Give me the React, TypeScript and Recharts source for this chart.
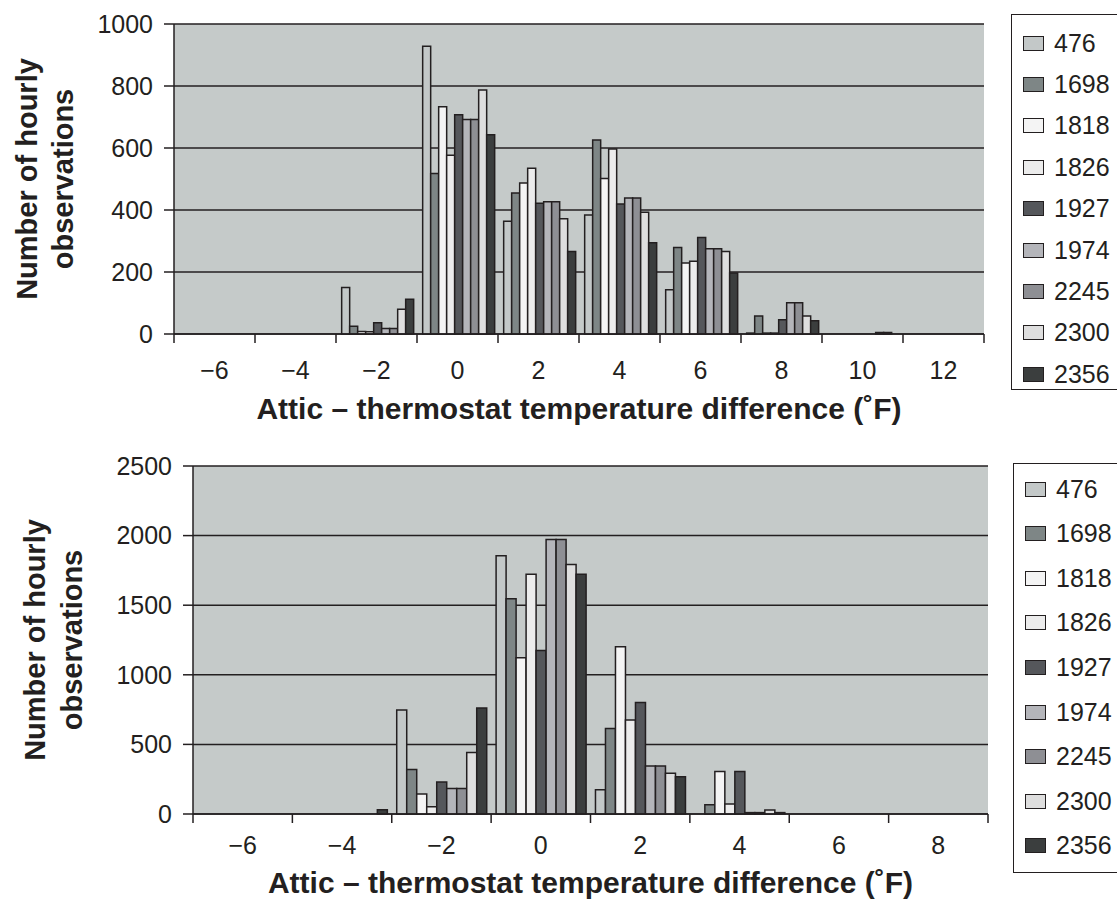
import React from 'react';
import { BarChart, Bar, XAxis, YAxis, CartesianGrid } from 'recharts';

const stations = ['476', '1698', '1818', '1826', '1927', '1974', '2245', '2300', '2356'];
const colors = ['#c3c8c8', '#7e8686', '#f4f4f4', '#ececec', '#55575b', '#b4b5ba', '#8e8f94', '#dedede', '#3b3e3e'];

// upper panel: temperature difference bins (°F)
const topBins = [-6, -4, -2, 0, 2, 4, 6, 8, 10, 12];
const top476 = [0, 0, 150, 928, 364, 384, 143, 3, 0, 0];
const top1698 = [0, 0, 25, 518, 455, 626, 279, 58, 0, 0];
const top1818 = [0, 0, 8, 733, 487, 502, 229, 3, 0, 0];
const top1826 = [0, 0, 7, 577, 535, 597, 235, 3, 0, 0];
const top1927 = [0, 0, 36, 707, 422, 419, 311, 46, 0, 0];
const top1974 = [0, 0, 18, 692, 427, 439, 275, 101, 0, 0];
const top2245 = [0, 0, 18, 692, 427, 439, 275, 101, 5, 0];
const top2300 = [0, 0, 80, 787, 372, 393, 266, 58, 5, 0];
const top2356 = [0, 0, 112, 643, 266, 294, 197, 43, 0, 0];
const topTicks = [0, 200, 400, 600, 800, 1000];

// lower panel
const bottomBins = [-6, -4, -2, 0, 2, 4, 6, 8];
const bot476 = [0, 0, 747, 1855, 174, 0, 0, 0];
const bot1698 = [0, 0, 320, 1546, 615, 67, 0, 0];
const bot1818 = [0, 0, 144, 1122, 1201, 306, 0, 0];
const bot1826 = [0, 0, 52, 1723, 675, 72, 0, 0];
const bot1927 = [0, 0, 230, 1175, 801, 306, 0, 0];
const bot1974 = [0, 0, 184, 1972, 345, 10, 0, 0];
const bot2245 = [0, 0, 184, 1972, 345, 10, 0, 0];
const bot2300 = [0, 0, 442, 1792, 292, 29, 0, 0];
const bot2356 = [0, 30, 761, 1723, 268, 10, 0, 0];
const bottomTicks = [0, 500, 1000, 1500, 2000, 2500];

const FONT = '"Liberation Sans", Arial, Helvetica, sans-serif';
const INK = '#231f20';

const buildRows = (bins: number[], series: number[][]) =>
  bins.map((x, i) => {
    const row: Record<string, number> = { x };
    stations.forEach((s, j) => {
      row['s' + s] = series[j][i];
    });
    return row;
  });

const fmtBin = (v: number) => (v < 0 ? '\u2212' + Math.abs(v) : String(v));

// category label at the band centre, tick marks at the band edges
const binTick = (gap: number, last: number) => (props: any) => {
  const { x, y, payload, index } = props;
  const half = payload.offset || 0;
  const axisY = props.axisY;
  return (
    <g>
      <line x1={x - half} x2={x - half} y1={axisY} y2={axisY + 9} stroke={INK} strokeWidth={1.5} />
      {index === last && (
        <line x1={x + half} x2={x + half} y1={axisY} y2={axisY + 9} stroke={INK} strokeWidth={1.5} />
      )}
      <text x={x} y={axisY + gap} textAnchor="middle" fontFamily={FONT} fontSize={25} fill={INK}>
        {fmtBin(payload.value)}
      </text>
    </g>
  );
};

const yTitle = (b1: number, b2: number) => (props: any) => {
  const vb = props.viewBox;
  const cy = vb.y + vb.height / 2;
  return (
    <g fontFamily={FONT} fontWeight="bold" fontSize={29} fill={INK}>
      <text x={b1} y={cy} textAnchor="middle" transform={`rotate(-90, ${b1}, ${cy})`}>
        Number of hourly
      </text>
      <text x={b2} y={cy} textAnchor="middle" transform={`rotate(-90, ${b2}, ${cy})`}>
        observations
      </text>
    </g>
  );
};

const xTitle = (dy: number) => (props: any) => {
  const vb = props.viewBox;
  return (
    <text
      x={vb.x + vb.width / 2}
      y={vb.y + dy}
      textAnchor="middle"
      fontFamily={FONT}
      fontWeight="bold"
      fontSize={30}
      fill={INK}
    >
      Attic – thermostat temperature difference (˚F)
    </text>
  );
};

interface PanelProps {
  bins: number[];
  series: number[][];
  yTicks: number[];
  width: number;
  height: number;
  margin: { top: number; right: number; bottom: number; left: number };
  yWidth: number;
  xHeight: number;
  labelGap: number;
  titleDy: number;
  yBase: [number, number];
  gap: string;
}

const Panel: React.FC<PanelProps> = p => {
  const rows = buildRows(p.bins, p.series);
  const axisY = p.height - p.margin.bottom - p.xHeight;
  const TickComp = binTick(p.labelGap, p.bins.length - 1);
  return (
    <BarChart
      width={p.width}
      height={p.height}
      data={rows}
      margin={p.margin}
      barGap={0}
      barCategoryGap={p.gap}
    >
      <CartesianGrid vertical={false} stroke={INK} strokeWidth={1.5} fill="#c5cac9" fillOpacity={1} />
      <XAxis
        dataKey="x"
        height={p.xHeight}
        axisLine={{ stroke: INK, strokeWidth: 1.5 }}
        tickLine={false}
        interval={0}
        tick={(tp: any) => <TickComp {...tp} axisY={axisY} />}
        label={xTitle(p.titleDy)}
      />
      <YAxis
        width={p.yWidth}
        domain={[p.yTicks[0], p.yTicks[p.yTicks.length - 1]]}
        ticks={p.yTicks}
        interval={0}
        tickSize={10}
        tickMargin={11}
        axisLine={{ stroke: INK, strokeWidth: 1.5 }}
        tickLine={{ stroke: INK, strokeWidth: 1.5 }}
        tick={{ fill: INK, fontSize: 25, fontFamily: FONT }}
        label={yTitle(p.yBase[0], p.yBase[1])}
      />
      {stations.map((s, i) => (
        <Bar
          key={s}
          dataKey={'s' + s}
          name={s}
          fill={colors[i]}
          stroke={INK}
          strokeWidth={1.5}
          isAnimationActive={false}
        />
      ))}
    </BarChart>
  );
};

const LegendBox: React.FC<{ left: number; top: number; height: number; first: number; step: number }> = ({
  left,
  top,
  height,
  first,
  step,
}) => (
  <div
    style={{
      position: 'absolute',
      left,
      top,
      width: 130,
      height,
      border: `1.5px solid ${INK}`,
      boxSizing: 'border-box',
      fontFamily: FONT,
      fontSize: 25,
      color: INK,
    }}
  >
    {stations.map((s, i) => (
      <div
        key={s}
        style={{
          position: 'absolute',
          left: 11,
          top: first + i * step - 15,
          height: 30,
          display: 'flex',
          alignItems: 'center',
        }}
      >
        <span
          style={{
            display: 'inline-block',
            width: 21,
            height: 15,
            background: colors[i],
            border: `1.5px solid ${INK}`,
            boxSizing: 'border-box',
            marginRight: 10,
          }}
        />
        <span>{s}</span>
      </div>
    ))}
  </div>
);

export default function App() {
  return (
    <div style={{ position: 'absolute', left: 0, top: 0, width: 1117, height: 899, background: '#fff', overflow: 'hidden' }}>
      <div style={{ position: 'absolute', left: 0, top: 0 }}>
        <Panel
          bins={topBins}
          series={[top476, top1698, top1818, top1826, top1927, top1974, top2245, top2300, top2356]}
          yTicks={topTicks}
          width={1000}
          height={440}
          margin={{ top: 24, right: 16, bottom: 16, left: 0 }}
          yWidth={174}
          xHeight={90}
          labelGap={45}
          titleDy={85}
          yBase={[37, 73]}
          gap="7%"
        />
      </div>
      <div style={{ position: 'absolute', left: 0, top: 440 }}>
        <Panel
          bins={bottomBins}
          series={[bot476, bot1698, bot1818, bot1826, bot1927, bot1974, bot2245, bot2300, bot2356]}
          yTicks={bottomTicks}
          width={1010}
          height={459}
          margin={{ top: 26, right: 22, bottom: 0, left: 0 }}
          yWidth={193}
          xHeight={85}
          labelGap={40}
          titleDy={79}
          yBase={[45, 82]}
          gap="5%"
        />
      </div>
      <LegendBox left={1011} top={14} height={376} first={28} step={41.4} />
      <LegendBox left={1013} top={463} height={410} first={25} step={44.6} />
    </div>
  );
}
